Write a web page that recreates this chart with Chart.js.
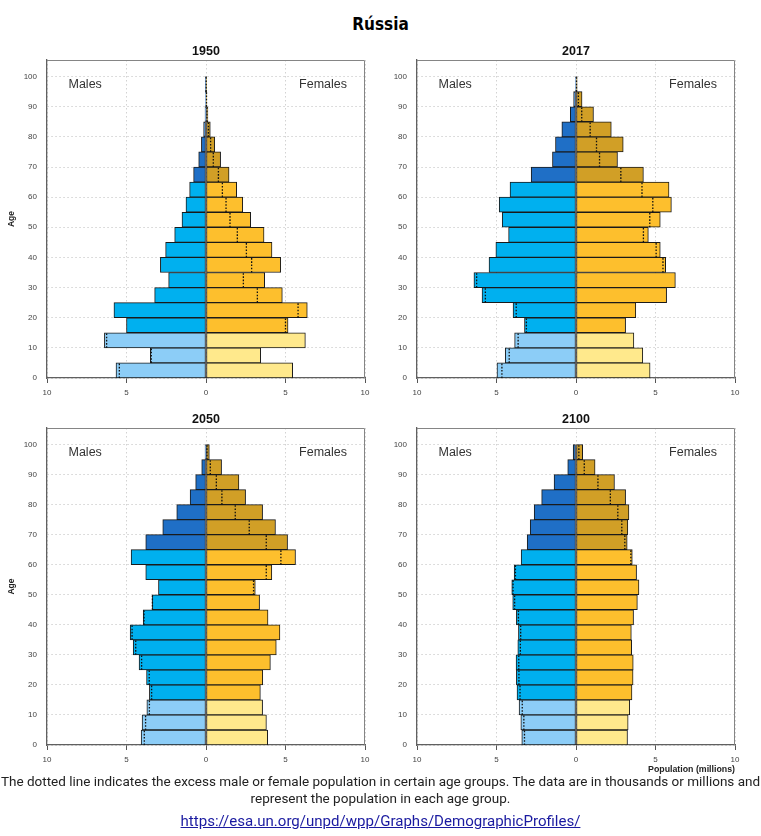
<!DOCTYPE html>
<html>
<head>
<meta charset="utf-8">
<script src="https://cdn.jsdelivr.net/npm/chart.js@4.4.1/dist/chart.umd.min.js"></script>
<style>
  html, body { margin: 0; padding: 0; background: #fff; }
  body { width: 761px; height: 836px; overflow: hidden; position: relative; }
  canvas.cv { position: absolute; }
  #title { position: absolute; left: 0; width: 761px; top: 13px; text-align: center;
           font-family: "DejaVu Sans Condensed", "Liberation Sans Narrow", "Roboto", sans-serif;
           font-weight: bold; font-size: 17px; line-height: 22px; color: #000; }
  .cap { position: absolute; left: -200px; width: 1161px; text-align: center; white-space: nowrap;
         font-family: "Roboto", "Liberation Sans", sans-serif; color: #222; }
  #cap1 { top: 773px; font-size: 13px; line-height: 17px; }
  #cap2 { top: 790px; font-size: 13px; line-height: 17px; }
  #cap3 { top: 811px; font-size: 15px; line-height: 20px; }
  #cap3 a { color: #1a1aa0; text-decoration: underline; }
  .fit { display: inline-block; }
</style>
</head>
<body>
<div id="title">Rússia</div>
<canvas class="cv" id="c1" width="380" height="374" style="left:0px;top:36px;width:380px;height:374px"></canvas>
<canvas class="cv" id="c2" width="380" height="374" style="left:370px;top:36px;width:380px;height:374px"></canvas>
<canvas class="cv" id="c3" width="380" height="365" style="left:0px;top:410px;width:380px;height:365px"></canvas>
<canvas class="cv" id="c4" width="380" height="365" style="left:370px;top:410px;width:380px;height:365px"></canvas>
<div class="cap" id="cap1"><span class="fit" id="fit1">The dotted line indicates the excess male or female population in certain age groups. The data are in thousands or millions and</span></div>
<div class="cap" id="cap2"><span class="fit" id="fit2">represent the population in each age group.</span></div>
<div class="cap" id="cap3"><span class="fit" id="fit3"><a href="#">https://esa.un.org/unpd/wpp/Graphs/DemographicProfiles/</a></span></div>
<script>
// ---------------- DATA ----------------
const ageStarts = [0,5,10,15,20,25,30,35,40,45,50,55,60,65,70,75,80,85,90,95];
const yTicks = [0,10,20,30,40,50,60,70,80,90,100];
const xTicks = [-10,-5,0,5,10];
const years = ['1950','2017','2050','2100'];
const maleLabel = 'Males';
const femaleLabel = 'Females';
const ageTitle = 'Age';
const popTitle = 'Population (millions)';

// population in millions, age groups 0-4 ... 95-99
const males1950   = [5.66,3.50,6.39,5.00,5.79,3.23,2.35,2.87,2.54,1.97,1.51,1.26,1.03,0.78,0.46,0.29,0.15,0.06,0.03,0.01];
const females1950 = [5.45,3.44,6.25,5.16,6.37,4.80,3.69,4.70,4.15,3.65,2.81,2.31,1.93,1.45,0.92,0.55,0.27,0.12,0.05,0.02];
const males2017   = [4.97,4.45,3.86,3.24,3.96,5.91,6.42,5.47,5.04,4.24,4.64,4.83,4.15,2.82,1.48,1.29,0.89,0.36,0.15,0.03];
const females2017 = [4.66,4.20,3.64,3.12,3.76,5.70,6.25,5.64,5.30,4.55,5.30,6.00,5.85,4.24,2.61,2.97,2.22,1.10,0.38,0.07];
const males2050   = [4.08,4.02,3.72,3.56,3.74,4.21,4.58,4.77,3.95,3.39,2.99,3.79,4.71,3.79,2.72,1.84,1.00,0.65,0.27,0.06];
const females2050 = [3.88,3.80,3.56,3.42,3.57,4.05,4.42,4.65,3.90,3.37,3.10,4.14,5.63,5.13,4.37,3.56,2.49,2.07,0.98,0.21];
const males2100   = [3.41,3.47,3.58,3.71,3.75,3.77,3.66,3.62,3.75,3.98,4.04,3.89,3.45,3.07,2.88,2.63,2.16,1.38,0.52,0.18];
const females2100 = [3.24,3.28,3.38,3.52,3.59,3.60,3.50,3.48,3.62,3.86,3.96,3.81,3.54,3.22,3.26,3.33,3.12,2.42,1.20,0.42];

// ---------------- STYLE ----------------
const maleColors   = {young: '#8ccdf7', adult: '#00b0ef', old: '#1f6fc6'};
const femaleColors = {young: '#ffe98c', adult: '#fdbf2d', old: '#d19f26'};
function groupColor(age, pal) {
  if (age < 15) return pal.young;
  if (age < 65) return pal.adult;
  return pal.old;
}
const tickFont = {family: '"Liberation Sans", Arial, sans-serif', size: 8};

const framePlugin = {
  id: 'frame',
  afterDraw(chart) {
    const {ctx, chartArea: a} = chart;
    ctx.save();
    ctx.strokeStyle = '#858585';
    ctx.lineWidth = 1;
    ctx.beginPath();
    ctx.moveTo(a.left, a.top + 0.5);
    ctx.lineTo(a.right - 0.5, a.top + 0.5);
    ctx.lineTo(a.right - 0.5, a.bottom);
    ctx.stroke();
    ctx.font = '12.5px "Liberation Sans", Arial, sans-serif';
    ctx.fillStyle = '#333';
    ctx.textBaseline = 'middle';
    ctx.textAlign = 'left';
    ctx.fillText(maleLabel, a.left + 21.5, a.top + 25);
    ctx.textAlign = 'right';
    ctx.fillText(femaleLabel, a.right - 18, a.top + 25);
    ctx.restore();
  }
};

function makePyramid(id, year, males, females, opt) {
  const malePts = ageStarts.map((a, i) => ({y: a + 2.5, x: -males[i]}));
  const femalePts = ageStarts.map((a, i) => ({y: a + 2.5, x: females[i]}));
  // dotted "excess" markers: smaller sex's value drawn on the larger side
  const dots = [];
  ageStarts.forEach((a, i) => {
    const m = males[i], f = females[i];
    if (m === f) return;
    const v = m > f ? -f : m;
    dots.push({x: v, y: a}, {x: v, y: a + 5}, {x: NaN, y: a + 5});
  });
  return new Chart(document.getElementById(id), {
    data: {
      datasets: [
        {
          type: 'line', data: dots, order: -1,
          borderColor: '#111', borderWidth: 1.3, borderDash: [1.6, 1.6],
          pointRadius: 0, spanGaps: false, tension: 0, fill: false
        },
        {
          type: 'bar', data: malePts, grouped: false,
          backgroundColor: ageStarts.map(a => groupColor(a, maleColors)),
          borderColor: '#1a1a1a', borderWidth: 1, borderSkipped: false,
          barPercentage: 1, categoryPercentage: 1
        },
        {
          type: 'bar', data: femalePts, grouped: false,
          backgroundColor: ageStarts.map(a => groupColor(a, femaleColors)),
          borderColor: '#1a1a1a', borderWidth: 1, borderSkipped: false,
          barPercentage: 1, categoryPercentage: 1
        }
      ]
    },
    options: {
      indexAxis: 'y',
      animation: false,
      responsive: false,
      events: [],
      layout: {padding: {left: 0, right: 15, top: 0, bottom: 0}},
      plugins: {
        legend: {display: false},
        tooltip: {enabled: false},
        title: {
          display: true, text: year, fullSize: false, color: '#111',
          font: {family: '"Liberation Sans", Arial, sans-serif', size: 12.5, weight: 'bold'},
          padding: {top: opt.titleTop, bottom: 0.5}
        }
      },
      scales: {
        x: {
          type: 'linear', min: -10, max: 10, offset: false,
          afterBuildTicks: s => { s.ticks = xTicks.map(v => ({value: v})); },
          afterFit: s => { s.height = opt.xHeight; },
          ticks: {font: tickFont, color: '#444', padding: 5, maxRotation: 0,
                  callback: v => String(Math.abs(v))},
          grid: {offset: false, color: '#d2d2d2', lineWidth: 1, tickLength: 5, tickColor: '#555', tickWidth: 1, tickBorderDash: []},
          border: {display: true, color: '#606060', width: 1.3, dash: [1.5, 2.5]},
          title: {display: opt.xTitle, text: popTitle, align: 'end', color: '#222',
                  font: {family: '"Liberation Sans", Arial, sans-serif', size: 8.8, weight: 'bold'},
                  padding: {top: 0, bottom: 0}}
        },
        y: {
          type: 'linear', min: 0, max: 105.5, offset: false,
          afterBuildTicks: s => { s.ticks = yTicks.map(v => ({value: v})); },
          afterFit: s => { s.width = 47; },
          ticks: {font: tickFont, color: '#444', padding: 10},
          grid: {offset: false, color: '#d2d2d2', lineWidth: 1, drawTicks: false},
          border: {display: true, color: '#606060', width: 1.3, dash: [1.5, 2.5]},
          title: {display: opt.yTitle, text: ageTitle, color: '#222',
                  font: {family: '"Liberation Sans", Arial, sans-serif', size: 8.5, weight: 'bold'},
                  padding: {top: 7, bottom: 0}}
        }
      }
    },
    plugins: [framePlugin]
  });
}

makePyramid('c1', years[0], males1950, females1950, {titleTop: 8.5, xHeight: 32, yTitle: true, xTitle: false});
makePyramid('c2', years[1], males2017, females2017, {titleTop: 8.5, xHeight: 32, yTitle: false, xTitle: false});
makePyramid('c3', years[2], males2050, females2050, {titleTop: 2.5, xHeight: 30, yTitle: true, xTitle: false});
makePyramid('c4', years[3], males2100, females2100, {titleTop: 2.5, xHeight: 30, yTitle: false, xTitle: true});

// fit caption widths to the reference layout
function fitWidth(id, target) {
  const el = document.getElementById(id);
  const parent = el.parentElement;
  const fs = parseFloat(getComputedStyle(parent).fontSize);
  const w = el.getBoundingClientRect().width;
  if (w > 0) parent.style.fontSize = (fs * target / w).toFixed(2) + 'px';
}
fitWidth('fit1', 759);
fitWidth('fit3', 400);
document.getElementById('cap2').style.fontSize = document.getElementById('cap1').style.fontSize;
</script>
</body>
</html>
